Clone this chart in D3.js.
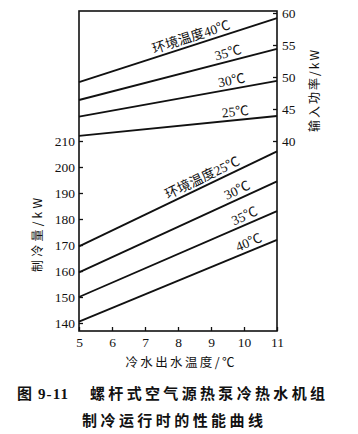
<!DOCTYPE html>
<html lang="zh">
<head>
    <meta charset="UTF-8"/>
    <title>螺杆式空气源热泵冷热水机组制冷性能曲线</title>
    <script src="https://d3js.org/d3.v7.min.js"></script>
    <style>
        html, body {
            margin: 0;
            padding: 0;
            background: #fff;
        }
        svg text {
            fill: #111;
        }
    </style>
</head>
<body>
    <div class="chart"></div>
    <script>
        // chilled water outlet temperature (x) - only the two ends, lines are straight
        var waterTemp = [5, 11];
        var ambientTemps = [25, 30, 35, 40];

        // cooling capacity, kW (left axis)
        var capacity25 = [169.5, 206];
        var capacity30 = [159.5, 194.5];
        var capacity35 = [150, 183];
        var capacity40 = [140.5, 172];

        // input power, kW (right axis)
        var power25 = [40.8, 43.9];
        var power30 = [43.8, 49.4];
        var power35 = [46.4, 54.4];
        var power40 = [49.2, 59.2];

        var xTicks = [5, 6, 7, 8, 9, 10, 11];
        var capTicks = [140, 150, 160, 170, 180, 190, 200, 210];
        var powTicks = [40, 45, 50, 55, 60];

        var w = 358;
        var h = 434;
        var plotLeft = 79, plotRight = 277, plotTop = 11, plotBottom = 331;

        var svg = d3.select(".chart")
                    .append("svg")
                    .attr("width", w)
                    .attr("height", h);

        var x = d3.scaleLinear().domain([5, 11]).range([plotLeft, plotRight]);
        var yCap = d3.scaleLinear().domain([140, 210]).range([323, 141]);
        var yPow = d3.scaleLinear().domain([40, 60]).range([141, 13]);

        var serif = "'Liberation Serif', 'Noto Sans CJK SC', serif";
        var cjk = "'Noto Sans CJK SC', sans-serif";

        // frame
        svg.append("rect")
            .attr("x", plotLeft)
            .attr("y", plotTop)
            .attr("width", plotRight - plotLeft)
            .attr("height", plotBottom - plotTop)
            .attr("fill", "none")
            .attr("stroke", "#111")
            .attr("stroke-width", 1.6);

        function styleAxis(g) {
            g.select(".domain").remove();
            g.selectAll("line").attr("stroke", "#111").attr("stroke-width", 1.3);
            g.selectAll("text")
                .attr("font-family", serif)
                .attr("font-size", 13.5)
                .attr("fill", "#111");
        }

        svg.append("g")
            .attr("transform", "translate(0," + plotBottom + ")")
            .call(d3.axisBottom(x).tickValues(xTicks).tickFormat(d3.format("d"))
                .tickSizeInner(-4).tickSizeOuter(0).tickPadding(6))
            .call(styleAxis);

        svg.append("g")
            .attr("transform", "translate(" + plotLeft + ",0)")
            .call(d3.axisLeft(yCap).tickValues(capTicks).tickFormat(d3.format("d"))
                .tickSizeInner(-4).tickSizeOuter(0).tickPadding(4))
            .call(styleAxis);

        svg.append("g")
            .attr("transform", "translate(" + plotRight + ",0)")
            .call(d3.axisRight(yPow).tickValues(powTicks).tickFormat(d3.format("d"))
                .tickSizeInner(-4).tickSizeOuter(0).tickPadding(5))
            .call(styleAxis);

        // series
        var powerSeries = [power25, power30, power35, power40];
        var capSeries = [capacity25, capacity30, capacity35, capacity40];

        function drawLines(series, yScale) {
            series.forEach(function(vals) {
                var pts = waterTemp.map(function(t, i) { return [t, vals[i]]; });
                svg.append("path")
                    .datum(pts)
                    .attr("fill", "none")
                    .attr("stroke", "#111")
                    .attr("stroke-width", 1.9)
                    .attr("d", d3.line()
                        .x(function(d) { return x(d[0]); })
                        .y(function(d) { return yScale(d[1]); }));
            });
        }
        drawLines(powerSeries, yPow);
        drawLines(capSeries, yCap);

        // labels sitting on the lines
        function lineLabel(vals, yScale, at, txt) {
            var x0 = x(waterTemp[0]), x1 = x(waterTemp[1]);
            var y0 = yScale(vals[0]), y1 = yScale(vals[1]);
            var px = x(at);
            var py = y0 + (y1 - y0) * (px - x0) / (x1 - x0);
            var ang = Math.atan2(y1 - y0, x1 - x0) * 180 / Math.PI;
            svg.append("text")
                .attr("transform", "translate(" + px + "," + py + ") rotate(" + ang + ")")
                .attr("dy", -4)
                .attr("text-anchor", "middle")
                .attr("font-family", serif)
                .attr("font-size", 13.5)
                .text(txt);
        }

        var powLabelAt = [9.76, 9.67, 9.58, 8.48];
        var capLabelAt = [8.85, 9.9, 10.12, 10.24];
        powerSeries.forEach(function(vals, i) {
            var t = ambientTemps[i] + "℃";
            if (i == 3) t = "环境温度" + t;
            lineLabel(vals, yPow, powLabelAt[i], t);
        });
        capSeries.forEach(function(vals, i) {
            var t = ambientTemps[i] + "℃";
            if (i == 0) t = "环境温度" + t;
            lineLabel(vals, yCap, capLabelAt[i], t);
        });

        // axis titles
        svg.append("text")
            .attr("transform", "translate(42,235) rotate(-90)")
            .attr("text-anchor", "middle")
            .attr("font-family", cjk)
            .attr("font-size", 12)
            .attr("textLength", 74)
            .text("制冷量/kW");

        svg.append("text")
            .attr("transform", "translate(319,91) rotate(-90)")
            .attr("text-anchor", "middle")
            .attr("font-family", cjk)
            .attr("font-size", 12)
            .attr("textLength", 82)
            .text("输入功率/kW");

        svg.append("text")
            .attr("x", 180)
            .attr("y", 367)
            .attr("text-anchor", "middle")
            .attr("font-family", cjk)
            .attr("font-size", 12.5)
            .attr("textLength", 109)
            .text("冷水出水温度/℃");

        // caption
        svg.append("text")
            .attr("x", 17)
            .attr("y", 399)
            .attr("font-family", serif)
            .attr("font-weight", "bold")
            .attr("font-size", 15)
            .attr("textLength", 51)
            .text("图 9-11");

        svg.append("text")
            .attr("x", 90)
            .attr("y", 399)
            .attr("font-family", cjk)
            .attr("font-weight", "bold")
            .attr("font-size", 15)
            .attr("textLength", 235)
            .text("螺杆式空气源热泵冷热水机组");

        svg.append("text")
            .attr("x", 82)
            .attr("y", 426)
            .attr("font-family", cjk)
            .attr("font-weight", "bold")
            .attr("font-size", 15)
            .attr("textLength", 181)
            .text("制冷运行时的性能曲线");
    </script>
</body>
</html>
